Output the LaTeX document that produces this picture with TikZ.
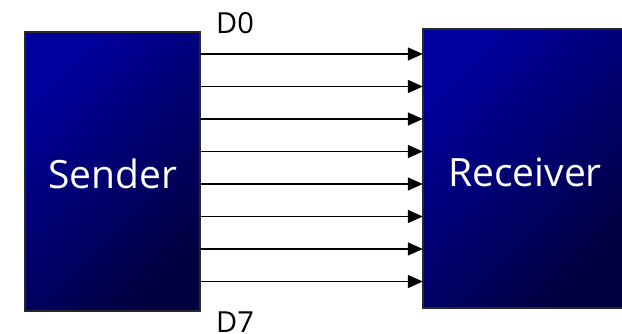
\documentclass[tikz,border=0pt]{standalone}
\usepackage{fontspec}
\setmainfont{Open Sans}
\usetikzlibrary{arrows.meta}
\definecolor{boxtop}{RGB}{0,0,158}
\definecolor{boxbot}{RGB}{0,0,64}
\definecolor{boxedge}{RGB}{40,40,40}
\tikzset{
  block/.style={draw=boxedge, line width=1.3pt, top color=boxtop, bottom color=boxbot, shading=axis, shading angle=45},
  blocktext/.style={text=white, font=\fontsize{39}{39}\selectfont, anchor=base},
  lbl/.style={font=\fontsize{29}{29}\selectfont, anchor=base west, inner sep=0pt},
  wire/.style={line width=1.4pt, -{Triangle[length=15pt,width=13pt]}}
}
\begin{document}
\begin{tikzpicture}[x=1pt,y=-1pt]
\useasboundingbox (0,0) rectangle (622,333);
\path[block] (25,32) rectangle (200,311);
\path[block] (423,29) rectangle (626,308);
\node[inner sep=0pt, minimum width=175pt, minimum height=279pt] (sender) at (112.5,171.5) {};
\node[inner sep=0pt, minimum width=203pt, minimum height=279pt] (receiver) at (524.5,168.5) {};
\node[blocktext] (stext) at (112.5,188) {Sender};
\node[blocktext] (rtext) at (525,186) {Receiver};
\foreach \y in {54,86.5,119,151.5,184,216.5,249,281.5}{
  \draw[wire] (sender.east |- 0,\y) -- (receiver.west |- 0,\y);
}
\node[lbl] (d0) at (216,33) {D0};
\node[lbl] (d7) at (216,332) {D7};
\end{tikzpicture}
\end{document}
